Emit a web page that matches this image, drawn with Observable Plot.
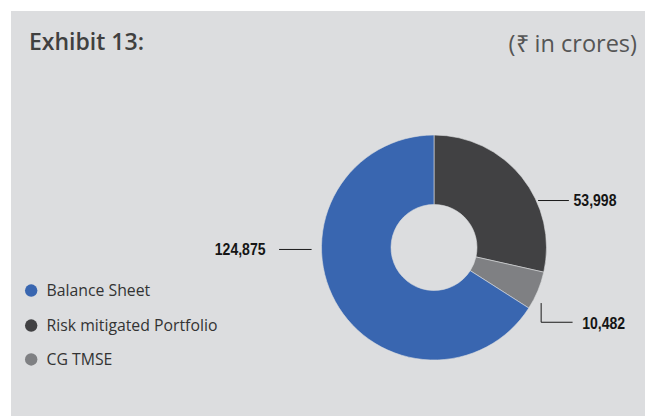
<!DOCTYPE html>
<html><head><meta charset="utf-8">
<script src="https://cdn.jsdelivr.net/npm/d3@7"></script>
<script src="https://cdn.jsdelivr.net/npm/@observablehq/plot@0.6"></script>
<style>
html,body{margin:0;padding:0;background:#fff;}
#panel{position:absolute;left:11px;top:11px;width:634px;height:405px;background:#dcdddf;overflow:hidden;}
#title{position:absolute;left:18px;top:19px;font:600 23px "Open Sans";line-height:23px;color:#404040;white-space:nowrap;}
#unit{position:absolute;right:8px;top:20.5px;font:400 23.5px "Open Sans";line-height:23px;color:#555;white-space:nowrap;}
#chart{position:absolute;left:0;top:60px;}
</style></head><body>
<div id="panel"><div id="title">Exhibit 13:</div><div id="unit">(₹ in crores)</div><div id="chart"></div></div>
<script>
// ---- data ----
const categories = ["Balance Sheet", "Risk mitigated Portfolio", "CG TMSE"];
const values = [124875, 53998, 10482];
const colors = ["#3966b0", "#414143", "#7f8083"];
// clockwise order of slices starting at 12 o'clock
const pieOrder = ["Risk mitigated Portfolio", "CG TMSE", "Balance Sheet"];

// ---- layout (unit coordinates: donut outer radius = 1) ----
const innerRatio = 0.382;
const fmt = d3.format(",");
const slices = categories.map((c, i) => ({category: c, value: values[i]}));
const pieData = pieOrder.map(c => slices.find(s => s.category === c));

const labelLayout = {
  "Balance Sheet":            {pts: [[-1.096, -0.013], [-1.378, -0.013]], tx: -1.502, ty: -0.013, anchor: "end"},
  "Risk mitigated Portfolio": {pts: [[0.924, 0.422], [1.191, 0.422]], tx: 1.236, ty: 0.422, anchor: "start"},
  "CG TMSE":                  {pts: [[0.948, -0.493], [0.948, -0.660], [1.224, -0.660]], tx: 1.313, ty: -0.668, anchor: "start"}
};
const leaders = slices.flatMap(s => labelLayout[s.category].pts.map(([x, y]) => ({k: s.category, x, y})));
const labels = slices.map(s => ({text: fmt(s.value), x: labelLayout[s.category].tx, y: labelLayout[s.category].ty, anchor: labelLayout[s.category].anchor}));

const legendX = -3.585, legendTextX = -3.449;
const legendY = [-0.378, -0.689, -0.991];
const legend = categories.map((c, i) => ({category: c, y: legendY[i]}));

function donut(index, scales) {
  const x = scales.x, y = scales.y, color = scales.color;
  const cx = x(0), cy = y(0), R = x(1) - x(0);
  const arcs = d3.pie().sort(null).value(d => d.value)(pieData);
  const arc = d3.arc().innerRadius(R * innerRatio).outerRadius(R);
  const g = d3.create("svg:g").attr("transform", `translate(${cx},${cy})`);
  g.selectAll("path").data(arcs).join("path")
    .attr("d", arc)
    .attr("fill", d => color(d.data.category))
    .attr("stroke", "#dcdddf").attr("stroke-width", 0.6);
  return g.node();
}

const labelStyle = {fontFamily: "'Liberation Sans', Arial, sans-serif", fontWeight: "bold", fontSize: 16.8, fill: "#151515", lineAnchor: "middle"};

const chart = Plot.plot({
  width: 634,
  height: 345,
  margin: 0,
  style: {background: "transparent", overflow: "visible"},
  x: {domain: [-1, 1], range: [310.5, 535.5], axis: null},
  y: {domain: [-1, 1], range: [289, 64], axis: null},
  color: {domain: categories, range: colors},
  marks: [
    donut,
    Plot.line(leaders, {x: "x", y: "y", z: "k", stroke: "#1a1a1a", strokeWidth: 1}),
    Plot.text(labels.filter(d => d.anchor === "end"), {x: "x", y: "y", text: "text", textAnchor: "end", ...labelStyle}),
    Plot.text(labels.filter(d => d.anchor === "start"), {x: "x", y: "y", text: "text", textAnchor: "start", ...labelStyle}),
    Plot.dot(legend, {x: () => legendX, y: "y", fill: "category", r: 6.2, stroke: null}),
    Plot.text(legend, {x: () => legendTextX, y: "y", text: "category", textAnchor: "start", lineAnchor: "middle", fontFamily: "'Open Sans'", fontSize: 15.8, fill: "#333"})
  ]
});
document.getElementById("chart").appendChild(chart);
// condensed look for the value labels (no narrow font installed)
const sx = 0.836;
const valueTexts = new Set(labels.map(d => d.text));
chart.querySelectorAll("text").forEach(t => {
  if (!valueTexts.has(t.textContent.trim())) return;
  const x = parseFloat(t.getAttribute("x") || "0");
  if (x) t.setAttribute("x", (x / sx).toFixed(2));
  const tr = t.getAttribute("transform") || "";
  if (tr && !x) {
    t.setAttribute("transform", tr + ` scale(${sx},1)`);
  } else {
    t.setAttribute("transform", (tr ? tr + " " : "") + `scale(${sx},1)`);
  }
});
</script>
</body></html>
